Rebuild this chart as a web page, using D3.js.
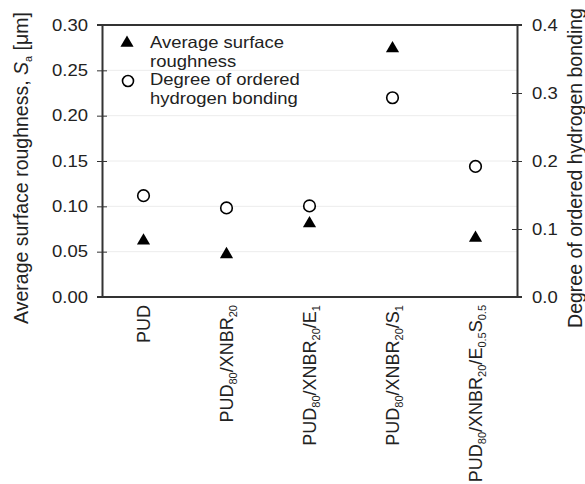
<!DOCTYPE html>
<html>
<head>
<meta charset="utf-8">
<script src="https://cdn.jsdelivr.net/npm/d3@7"></script>
<style>
  body { margin: 0; background: #fff; }
  svg { font-family: "Liberation Sans", Arial, sans-serif; }
</style>
</head>
<body>
<div id="chart"></div>
<script>
// categories, sub-scripts written as _{..}
const categories = [
  "PUD",
  "PUD_{80}/XNBR_{20}",
  "PUD_{80}/XNBR_{20}/E_{1}",
  "PUD_{80}/XNBR_{20}/S_{1}",
  "PUD_{80}/XNBR_{20}/E_{0.5}S_{0.5}"
];
const roughness = [0.062, 0.047, 0.081, 0.274, 0.065];   // left axis, um
const hbonding = [0.149, 0.131, 0.134, 0.293, 0.192];    // right axis
const leftTicks = [0, 0.05, 0.10, 0.15, 0.20, 0.25, 0.30];
const rightTicks = [0, 0.1, 0.2, 0.3, 0.4];
const legendLines = [["Average surface", "roughness"], ["Degree of ordered", "hydrogen bonding"]];

const W = 585, H = 484;
const m = { top: 25, right: 68, bottom: 187, left: 102 };
const txt = "#222", axc = "#333";
const fs = "16.5px", sx = 1.12;   // source text looks a bit stretched sideways

const svg = d3.select("#chart").append("svg")
  .attr("width", W).attr("height", H);

const x = d3.scalePoint().domain(categories)
  .range([m.left, W - m.right]).padding(0.5);
const yL = d3.scaleLinear().domain([0, 0.30]).range([H - m.bottom, m.top]);
const yR = d3.scaleLinear().domain([0, 0.4]).range([H - m.bottom, m.top]);

// grid
svg.append("g").selectAll("line").data(leftTicks.slice(1, -1)).join("line")
  .attr("x1", m.left).attr("x2", W - m.right)
  .attr("y1", d => yL(d)).attr("y2", d => yL(d))
  .attr("stroke", "#ececec").attr("stroke-width", 1);

// axes
const gl = svg.append("g").attr("transform", `translate(${m.left},0)`)
  .call(d3.axisLeft(yL).tickValues(leftTicks).tickFormat(d3.format(".2f")).tickSizeInner(5).tickSizeOuter(0));
const gr = svg.append("g").attr("transform", `translate(${W - m.right},0)`)
  .call(d3.axisRight(yR).tickValues(rightTicks).tickFormat(d3.format(".1f")).tickSizeInner(5).tickSizeOuter(0));
[gl, gr].forEach(g => {
  const left = g === gl;
  g.select(".domain").attr("stroke", axc).attr("stroke-width", 2);
  g.selectAll(".tick line").attr("stroke", axc).attr("stroke-width", 1)
    .attr("x1", left ? 5 : -5);
  g.selectAll(".tick text").attr("fill", txt).style("font-size", fs)
    .style("font-family", "Liberation Sans, Arial, sans-serif")
    .attr("x", (left ? -14 : 15) / sx)
    .attr("transform", `scale(${sx},1)`);
});
// top and bottom frame
svg.append("line").attr("x1", m.left - 5).attr("x2", W - m.right + 5)
  .attr("y1", m.top).attr("y2", m.top).attr("stroke", axc).attr("stroke-width", 2);
svg.append("line").attr("x1", m.left - 5).attr("x2", W - m.right + 5)
  .attr("y1", H - m.bottom).attr("y2", H - m.bottom).attr("stroke", axc).attr("stroke-width", 2);

// text with sub-scripts
function richText(sel, s) {
  const parts = s.split(/(_\{[^}]*\})/).filter(p => p.length);
  let back = 0;
  parts.forEach(p => {
    if (p.startsWith("_{")) {
      sel.append("tspan").attr("font-size", "11px").attr("dy", 4 - back).text(p.slice(2, -1));
      back = 4;
    } else {
      sel.append("tspan").attr("dy", -back).text(p);
      back = 0;
    }
  });
}

// category labels
svg.append("g").selectAll("text").data(categories).join("text")
  .attr("transform", d => `translate(${x(d) + 6.5},${H - m.bottom + 8}) rotate(-90)`)
  .attr("text-anchor", "end").attr("fill", txt).style("font-size", "18px")
  .each(function (d) { richText(d3.select(this), d); });

// markers
const tri = d3.symbol().type(d3.symbolTriangle).size(75);
svg.append("g").selectAll("path").data(roughness).join("path")
  .attr("d", tri)
  .attr("transform", (d, i) => `translate(${x(categories[i])},${yL(d)})`)
  .attr("fill", "#000");
svg.append("g").selectAll("circle").data(hbonding).join("circle")
  .attr("cx", (d, i) => x(categories[i])).attr("cy", d => yR(d))
  .attr("r", 5.8).attr("fill", "#fff").attr("stroke", "#000").attr("stroke-width", 1.6);

// legend
const lg = svg.append("g");
lg.append("path").attr("d", tri).attr("transform", "translate(127,43)").attr("fill", "#000");
lg.append("circle").attr("cx", 128).attr("cy", 81).attr("r", 5.5)
  .attr("fill", "#fff").attr("stroke", "#000").attr("stroke-width", 1.6);
legendLines.forEach((pair, i) => pair.forEach((t, j) => {
  const yy = 48 + i * 37 + j * 18.5;
  lg.append("text").attr("transform", `translate(150,${yy}) scale(${sx},1)`)
    .attr("fill", txt).style("font-size", fs).text(t);
}));

// axis titles
const cy = 168;
const lt = svg.append("text").attr("transform", `translate(28,${cy}) rotate(-90)`)
  .attr("text-anchor", "middle").attr("fill", txt).style("font-size", "19.5px");
lt.append("tspan").text("Average surface roughness,  ");
lt.append("tspan").attr("font-style", "italic").text("S");
lt.append("tspan").attr("font-size", "11px").attr("dy", 4).text("a");
lt.append("tspan").attr("dy", -4).text(" [\u03bcm]");
svg.append("text").attr("transform", `translate(582,${cy}) rotate(-90)`)
  .attr("text-anchor", "middle").attr("fill", txt).style("font-size", "19.5px")
  .text("Degree of ordered hydrogen bonding");
</script>
</body>
</html>
